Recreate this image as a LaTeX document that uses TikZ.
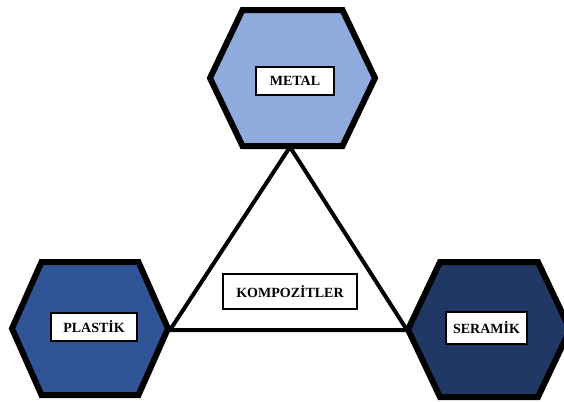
\documentclass[tikz,border=0pt]{standalone}
\usepackage{fontspec}
\setmainfont{Liberation Serif}
\usepackage{tikz}
\usetikzlibrary{positioning}
\definecolor{metalblue}{HTML}{8FAADC}
\definecolor{plastikblue}{HTML}{2F5597}
\definecolor{seramikblue}{HTML}{203864}

\begin{document}
\begin{tikzpicture}[
    x=0.75pt, y=-0.75pt,
    font=\fontsize{10.5}{12}\selectfont\bfseries,
    hexa/.style={draw=black, line width=4.5pt, line join=miter},
    tri/.style={draw=black, line width=3pt, line join=miter, fill=white},
    lbl/.style={draw=black, fill=white, line width=1.5pt, inner sep=0pt, minimum height=21pt}
  ]
    \useasboundingbox (0,0) rectangle (564,401);
    % hexagons
    \draw[hexa, fill=metalblue, shift={(292.5,78)}]
      (-82.5,0) -- (-50,-68) -- (50,-68) -- (82.5,0) -- (50,68) -- (-50,68) -- cycle;
    \draw[hexa, fill=plastikblue, shift={(90,328.5)}]
      (-78,0) -- (-48.5,-66.5) -- (48.5,-66.5) -- (78,0) -- (48.5,66.5) -- (-48.5,66.5) -- cycle;
    \draw[hexa, fill=seramikblue, shift={(489,329.5)}]
      (-81,0) -- (-49,-67.5) -- (49,-67.5) -- (81,0) -- (49,67.5) -- (-49,67.5) -- cycle;
    % triangle corners
    \coordinate (mbot) at (290,147);
    \coordinate (pright) at (170,330);
    \coordinate (sleft) at (407,330);
    \draw[tri] (mbot) -- (pright) -- (sleft) -- cycle;
    % labels
    \node[lbl, minimum width=58.5pt] (metal) at (295,81) {METAL};
    \node[lbl, minimum width=64.5pt] (plastik) at (94,327) {PLASTİK};
    \node[lbl, minimum width=61pt, minimum height=24pt] (seramik) at (486.5,328) {SERAMİK};
    \node[lbl, minimum width=101pt, minimum height=26pt] (komp) at (290,291.5) {KOMPOZİTLER};
\end{tikzpicture}
\end{document}
